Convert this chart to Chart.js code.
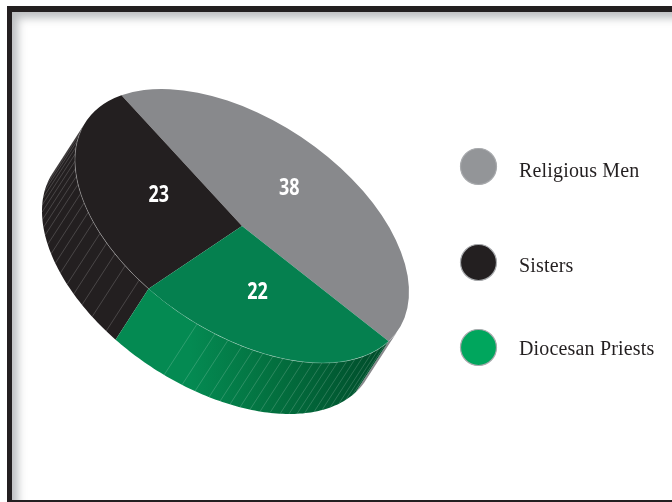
<!DOCTYPE html>
<html>
<head>
<meta charset="utf-8">
<script src="https://cdn.jsdelivr.net/npm/chart.js@4/dist/chart.umd.min.js"></script>
<style>
  html, body { margin: 0; padding: 0; background: #fff; overflow: hidden; }
  #stage { position: relative; width: 672px; height: 502px; overflow: hidden; }
  #frame {
    position: absolute; left: 7px; top: 6px; width: 720px; height: 488px;
    border-left: 5px solid #231f20; border-top: 6px solid #231f20; border-bottom: 2px solid #231f20;
    box-sizing: content-box;
    box-shadow: inset 9px 9px 9px -3px rgba(60, 65, 70, 0.34);
  }
  canvas { position: absolute; left: 0; top: 0; }
</style>
</head>
<body>
<div id="stage">
  <div id="frame"></div>
  <canvas id="chart" width="672" height="502"></canvas>
</div>
<script>
// Share of each group
const categories = ['Religious Men', 'Sisters', 'Diocesan Priests'];
const shares = [38, 23, 22];

// Colours for the top face, the legend dots and the outer wall
const faceColors = ['#88898c', '#231f20', '#05804f'];
const dotColors = ['#939598', '#231f20', '#00a65d'];
const wallColors = ['#88898c', '#231f20', null];

// Projection of the round pie onto the tilted disc
const disc = { cx: 242, cy: 226, xx: 167, yx: 65.9, yy: -120.1, depthX: -33, depthY: 51 };
const startRotation = 61.4;

// Legend layout
const legendLayout = { dotX: 478.5, textX: 519, radius: 18, rows: [166.5, 262.5, 347.5], baselines: [177, 272, 355] };

// Nudges of the value labels away from the middle of their slice
const labelRadius = 0.52;
const labelNudge = [[-4, -7], [3, -3], [-5, -2]];

// Rim angles, in degrees, of the thin ribs on the wall
const blackRibs = [232, 225.6, 220.5, 215.9, 211.8, 207.1, 203, 199, 195, 191, 187.5, 184, 180.5, 177, 173.5, 170, 166.5, 163];
const greenRibs = [254.4, 260.7, 265.2, 270, 273.8, 277.2, 280.7, 284.2, 287.8, 291.4, 295.2, 298.6, 301.8, 304.9, 309, 312.6, 316.5, 321, 325, 329];

const rad = d => d * Math.PI / 180;
const rimPoint = t => ({
  x: disc.cx + disc.xx * Math.cos(t),
  y: disc.cy + disc.yx * Math.cos(t) + disc.yy * Math.sin(t)
});

// The stretch of rim whose wall faces the viewer starts and ends where the
// ellipse tangent runs parallel to the extrusion direction.
const wallFrom = Math.atan2(disc.yy * disc.depthX, disc.yx * disc.depthX - disc.xx * disc.depthY);
const wallTo = wallFrom + Math.PI;

function rimPath(ctx, a0, a1, dx, dy, begin) {
  const n = Math.max(2, Math.ceil(Math.abs(a1 - a0) / 0.02));
  for (let i = 0; i <= n; i++) {
    const p = rimPoint(a0 + (a1 - a0) * i / n);
    if (i === 0 && begin) ctx.moveTo(p.x + dx, p.y + dy);
    else ctx.lineTo(p.x + dx, p.y + dy);
  }
}

function drawRibs(ctx, angles, style) {
  ctx.lineWidth = 0.55;
  ctx.strokeStyle = style;
  angles.forEach(d => {
    const p = rimPoint(rad(d));
    ctx.beginPath();
    ctx.moveTo(p.x, p.y);
    ctx.lineTo(p.x + disc.depthX, p.y + disc.depthY);
    ctx.stroke();
  });
}

const tiltedDisc = {
  id: 'tiltedDisc',
  beforeDatasetsDraw(chart) {
    const ctx = chart.ctx;
    const arcs = chart.getDatasetMeta(0).data;
    const grad = ctx.createLinearGradient(190, 0, 375, 0);
    grad.addColorStop(0, '#048a52');
    grad.addColorStop(0.45, '#03703f');
    grad.addColorStop(1, '#004f2c');

    // Outer wall: only the part of each slice's rim that faces the viewer
    arcs.forEach((arc, i) => {
      for (let turn = -1; turn <= 1; turn++) {
        const lo = Math.max(arc.startAngle + turn * 2 * Math.PI, wallFrom);
        const hi = Math.min(arc.endAngle + turn * 2 * Math.PI, wallTo);
        if (hi <= lo) continue;
        ctx.beginPath();
        rimPath(ctx, lo, hi, 0, 0, true);
        rimPath(ctx, hi, lo, disc.depthX, disc.depthY, false);
        ctx.closePath();
        ctx.fillStyle = wallColors[i] || grad;
        ctx.fill();
      }
    });

    drawRibs(ctx, blackRibs, 'rgba(255,255,255,0.32)');
    drawRibs(ctx, greenRibs, 'rgba(255,255,255,0.30)');

    // Chart.js lays the pie out as a circle; the matrix turns it into the disc
    const first = arcs[0];
    const R = chart.getDatasetMeta(0).controller.outerRadius;
    ctx.save();
    ctx.translate(disc.cx, disc.cy);
    ctx.transform(disc.xx / R, disc.yx / R, 0, disc.yy / R, 0, 0);
    ctx.translate(-first.x, -first.y);
  },
  afterDatasetsDraw(chart) {
    const ctx = chart.ctx;
    ctx.restore();
    const arcs = chart.getDatasetMeta(0).data;

    // Light edge where the top face meets the wall
    ctx.lineWidth = 0.7;
    ctx.strokeStyle = 'rgba(255,255,255,0.42)';
    ctx.beginPath();
    rimPath(ctx, rad(164), arcs[1].endAngle, 0, 0, true);
    ctx.stroke();
    ctx.strokeStyle = 'rgba(255,255,255,0.30)';
    ctx.beginPath();
    rimPath(ctx, rad(245), arcs[2].endAngle, 0, 0, true);
    ctx.stroke();

    // Value labels, set in a narrowed bold face
    ctx.fillStyle = '#ffffff';
    ctx.font = 'bold 23px "Open Sans", sans-serif';
    ctx.textAlign = 'center';
    ctx.textBaseline = 'middle';
    arcs.forEach((arc, i) => {
      const mid = (arc.startAngle + arc.endAngle) / 2;
      const p = rimPoint(mid);
      const x = disc.cx + (p.x - disc.cx) * labelRadius + labelNudge[i][0];
      const y = disc.cy + (p.y - disc.cy) * labelRadius + labelNudge[i][1];
      ctx.save();
      ctx.translate(x, y);
      ctx.scale(0.78, 1);
      ctx.fillText(String(shares[i]), 0, 0);
      ctx.restore();
    });

    // Legend
    categories.forEach((name, i) => {
      ctx.beginPath();
      ctx.arc(legendLayout.dotX, legendLayout.rows[i], legendLayout.radius, 0, Math.PI * 2);
      ctx.fillStyle = dotColors[i];
      ctx.fill();
      ctx.lineWidth = 1.2;
      ctx.strokeStyle = '#a7a9ac';
      ctx.stroke();
      ctx.fillStyle = '#231f20';
      ctx.font = '20px "Liberation Serif", serif';
      ctx.letterSpacing = '0.17px';
      ctx.textAlign = 'left';
      ctx.textBaseline = 'alphabetic';
      ctx.fillText(name, legendLayout.textX, legendLayout.baselines[i]);
    });
  }
};

new Chart(document.getElementById('chart'), {
  type: 'pie',
  data: {
    labels: categories,
    datasets: [{
      data: shares,
      backgroundColor: faceColors,
      borderWidth: 0,
      clip: false
    }]
  },
  options: {
    responsive: false,
    animation: false,
    rotation: startRotation,
    events: [],
    plugins: { legend: { display: false }, tooltip: { enabled: false } }
  },
  plugins: [tiltedDisc]
});
</script>
</body>
</html>
